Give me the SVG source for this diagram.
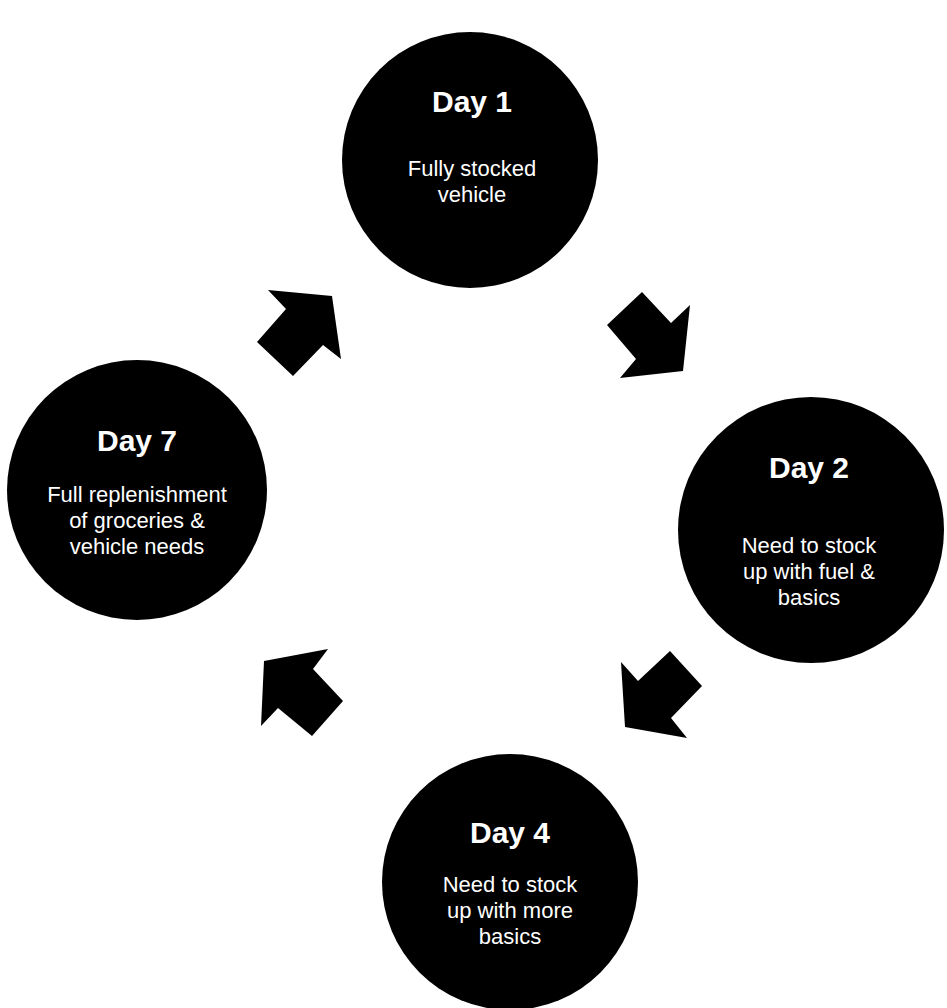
<svg xmlns="http://www.w3.org/2000/svg" width="947" height="1008" viewBox="0 0 947 1008">
<style>
.node circle{fill:#000}
.t{font-family:"Liberation Sans",Arial,sans-serif;fill:#fff;text-anchor:middle}
.h{font-size:30px;font-weight:bold}
.b{font-size:22px}
.arrow{fill:#000}
</style>
<rect width="947" height="1008" fill="#fff"/>
<g id="connectors">
<polygon class="arrow" points="607,325 642,292 671,323 690,305 683,371 620,378 636,359"/>
<polygon class="arrow" points="621,662 638,681 670,651 702,686 671,718 687,738 625,727"/>
<polygon class="arrow" points="264,661 328,649 313,669 343,701 312,736 278,708 261,726"/>
<polygon class="arrow" points="268,290 332,296 341,359 323,345 293,376 257,342 286,309"/>
</g>
<g id="day1" class="node">
<circle cx="470" cy="160" r="128"/>
<text class="t h" x="472" y="112">Day 1</text>
<text class="t b" x="472" y="176">Fully stocked</text>
<text class="t b" x="472" y="202">vehicle</text>
</g>
<g id="day2" class="node">
<circle cx="811" cy="530" r="133"/>
<text class="t h" x="809" y="478">Day 2</text>
<text class="t b" x="809" y="553">Need to stock</text>
<text class="t b" x="809" y="579">up with fuel &amp;</text>
<text class="t b" x="809" y="605">basics</text>
</g>
<g id="day4" class="node">
<circle cx="510" cy="882" r="128"/>
<text class="t h" x="510" y="843">Day 4</text>
<text class="t b" x="510" y="892">Need to stock</text>
<text class="t b" x="510" y="918">up with more</text>
<text class="t b" x="510" y="944">basics</text>
</g>
<g id="day7" class="node">
<circle cx="137" cy="490" r="130"/>
<text class="t h" x="137" y="451">Day 7</text>
<text class="t b" x="137" y="502">Full replenishment</text>
<text class="t b" x="137" y="528">of groceries &amp;</text>
<text class="t b" x="137" y="554">vehicle needs</text>
</g>
</svg>
